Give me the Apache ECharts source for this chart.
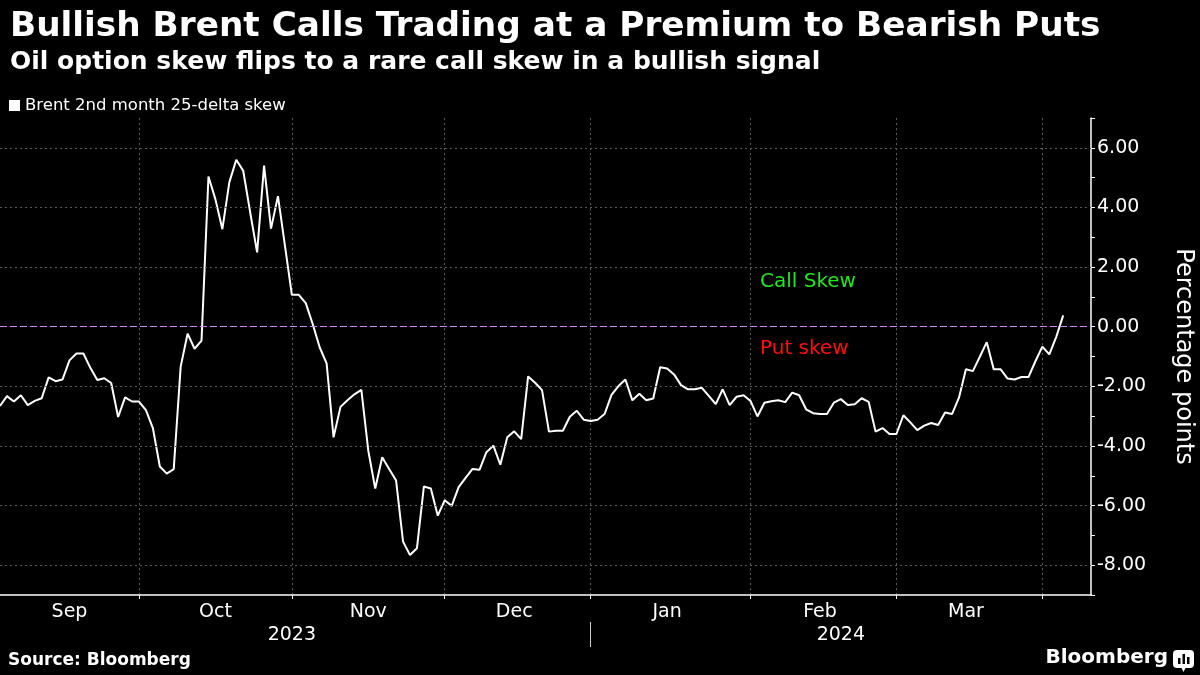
<!DOCTYPE html>
<html>
<head>
<meta charset="utf-8">
<title>Bullish Brent Calls Trading at a Premium to Bearish Puts</title>
<script src="https://cdn.jsdelivr.net/npm/echarts@6.0.0/dist/echarts.min.js"></script>
<style>
  html, body { margin: 0; padding: 0; background: #000; }
  #chart { width: 1200px; height: 675px; }
</style>
</head>
<body>
<div id="chart"></div>
<script>
// sessions start Sep 4 2023; the axis runs a few sessions past the last print
var firstDay = '2023-09-04';
var lastAxisDay = '2024-04-10';
var monthNames = ['Jan', 'Feb', 'Mar', 'Apr', 'May', 'Jun', 'Jul', 'Aug', 'Sep', 'Oct', 'Nov', 'Dec'];
var yLabels = [-8, -6, -4, -2, 0, 2, 4, 6];

// Brent 2nd month 25-delta skew, one value per trading day
var skew = [
  -2.66, -2.33, -2.51, -2.30, -2.63, -2.49, -2.40, -1.70, -1.83, -1.77,
  -1.13, -0.90, -0.90, -1.38, -1.79, -1.73, -1.89, -3.03, -2.37, -2.51,
  -2.51, -2.80, -3.40, -4.69, -4.93, -4.78, -1.34, -0.23, -0.74, -0.47,
   5.04,  4.27,  3.27,  4.84,  5.60,  5.23,  3.84,  2.49,  5.40,  3.29,
   4.38,  2.73,  1.07,  1.07,  0.79,  0.09, -0.69, -1.23, -3.71, -2.69,
  -2.47, -2.27, -2.12, -4.16, -5.43, -4.38, -4.77, -5.16, -7.21, -7.66,
  -7.43, -5.36, -5.43, -6.34, -5.82, -6.01, -5.38, -5.07, -4.77, -4.80,
  -4.21, -3.99, -4.63, -3.71, -3.51, -3.77, -1.67, -1.88, -2.13, -3.52,
  -3.49, -3.49, -3.02, -2.82, -3.12, -3.16, -3.12, -2.93, -2.29, -1.99,
  -1.77, -2.47, -2.25, -2.47, -2.41, -1.36, -1.40, -1.60, -1.96, -2.10,
  -2.10, -2.05, -2.32, -2.60, -2.10, -2.63, -2.35, -2.30, -2.49, -3.01,
  -2.55, -2.50, -2.47, -2.53, -2.21, -2.30, -2.77, -2.90, -2.93, -2.93,
  -2.55, -2.43, -2.63, -2.60, -2.40, -2.52, -3.52, -3.40, -3.60, -3.60,
  -2.97, -3.21, -3.47, -3.32, -3.23, -3.30, -2.88, -2.93, -2.38, -1.43,
  -1.49, -1.01, -0.52, -1.43, -1.43, -1.74, -1.77, -1.69, -1.69, -1.16,
  -0.67, -0.93, -0.34, 0.38
];

// weekday calendar for the category axis
var tradingDays = [];
var d = new Date(firstDay + 'T00:00:00Z');
var end = new Date(lastAxisDay + 'T00:00:00Z');
while (d <= end) {
  var wd = d.getUTCDay();
  if (wd !== 0 && wd !== 6) tradingDays.push(d.toISOString().slice(0, 10));
  d.setUTCDate(d.getUTCDate() + 1);
}

// first session of each month -> ticks and vertical grid
var monthStarts = [];
var yearStarts = [];
for (var i = 1; i < tradingDays.length; i++) {
  if (tradingDays[i].slice(5, 7) !== tradingDays[i - 1].slice(5, 7)) monthStarts.push(i);
  if (tradingDays[i].slice(0, 4) !== tradingDays[i - 1].slice(0, 4)) yearStarts.push(i);
}
// label positions: middle of each month's span (skip stubs)
var monthLabelAt = {};
var bounds = [0].concat(monthStarts).concat([tradingDays.length - 1]);
for (var j = 0; j < bounds.length - 1; j++) {
  if (bounds[j + 1] - bounds[j] >= 15) monthLabelAt[Math.floor((bounds[j] + bounds[j + 1]) / 2)] = true;
}
var yearLabelAt = {};
var yb = [0].concat(yearStarts).concat([tradingDays.length - 1]);
for (var k = 0; k < yb.length - 1; k++) {
  yearLabelAt[Math.floor((yb[k] + yb[k + 1]) / 2)] = true;
}

var gridLines = yLabels.filter(function (v) { return v !== 0; }).map(function (v) {
  return { yAxis: v, lineStyle: { color: '#5a5a5a', type: [2, 3], width: 1 } };
});
gridLines.push({ yAxis: 0, lineStyle: { color: '#c98ce8', type: [7, 3], width: 1 } });

var font = 'DejaVu Sans';
var myChart = echarts.init(document.getElementById('chart'));

var option = {
  backgroundColor: '#000',
  animation: false,
  title: {
    text: 'Bullish Brent Calls Trading at a Premium to Bearish Puts',
    subtext: 'Oil option skew flips to a rare call skew in a bullish signal',
    left: 5,
    top: 5,
    itemGap: 6,
    textStyle: { color: '#fff', fontFamily: font, fontWeight: 'bold', fontSize: 34.3 },
    subtextStyle: { color: '#fff', fontFamily: font, fontWeight: 'bold', fontSize: 25 }
  },
  legend: {
    left: 4,
    top: 92,
    icon: 'rect',
    itemWidth: 11,
    itemHeight: 11,
    textStyle: { color: '#fff', fontFamily: font, fontSize: 16.5 },
    data: ['Brent 2nd month 25-delta skew']
  },
  grid: { left: 0, right: 109, top: 118, bottom: 80, outerBoundsMode: 'none', containLabel: false },
  xAxis: [
    {
      type: 'category',
      data: tradingDays,
      boundaryGap: false,
      axisLine: { onZero: false, lineStyle: { color: '#fff', width: 1.5 } },
      axisTick: {
        length: 4,
        lineStyle: { color: '#fff' },
        interval: function (idx) { return monthStarts.indexOf(idx) >= 0; }
      },
      splitLine: {
        show: true,
        lineStyle: { color: '#5a5a5a', type: [2, 3] },
        interval: function (idx) { return monthStarts.indexOf(idx) >= 0; }
      },
      axisLabel: {
        color: '#fff',
        fontFamily: font,
        fontSize: 19,
        margin: 8,
        interval: function (idx) { return !!monthLabelAt[idx]; },
        formatter: function (v) { return monthNames[parseInt(v.slice(5, 7), 10) - 1]; }
      }
    },
    {
      type: 'category',
      data: tradingDays,
      boundaryGap: false,
      position: 'bottom',
      offset: 27,
      axisLine: { show: false, onZero: false },
      axisTick: {
        length: 25,
        lineStyle: { color: '#ccc' },
        interval: function (idx) { return yearStarts.indexOf(idx) >= 0; }
      },
      axisLabel: {
        color: '#fff',
        fontFamily: font,
        fontSize: 19,
        margin: 4,
        interval: function (idx) { return !!yearLabelAt[idx]; },
        formatter: function (v) { return v.slice(0, 4); }
      }
    }
  ],
  yAxis: {
    type: 'value',
    position: 'right',
    min: -9,
    max: 7,
    interval: 1,
    name: 'Percentage points',
    nameLocation: 'middle',
    nameRotate: -90,
    nameGap: 80,
    nameTextStyle: { color: '#fff', fontFamily: font, fontSize: 24 },
    axisLine: { show: true, onZero: false, lineStyle: { color: '#fff', width: 1.5 } },
    axisTick: { show: true, length: 4, lineStyle: { color: '#fff' } },
    splitLine: { show: false },
    axisLabel: {
      color: '#fff',
      fontFamily: font,
      fontSize: 19,
      margin: 6,
      formatter: function (v) { return yLabels.indexOf(v) >= 0 ? v.toFixed(2) : ''; }
    }
  },
  graphic: [
    { type: 'text', left: 760, top: 272, style: { text: 'Call Skew', fill: '#1ee81e', font: '20px "DejaVu Sans"' } },
    { type: 'text', left: 760, top: 339, style: { text: 'Put skew', fill: '#ff0d0d', font: '20px "DejaVu Sans"' } },
    { type: 'text', left: 8, top: 652, style: { text: 'Source: Bloomberg', fill: '#fff', font: 'bold 17px "DejaVu Sans"' } },
    { type: 'text', right: 32, top: 648, style: { text: 'Bloomberg', fill: '#fff', font: 'bold 20px "DejaVu Sans"' } },
    {
      type: 'group', right: 6, top: 650,
      children: [
        { type: 'rect', shape: { x: 0, y: 0, width: 21, height: 18, r: 4 }, style: { fill: '#fff' } },
        { type: 'polygon', shape: { points: [[8, 17], [13, 17], [10.5, 22]] }, style: { fill: '#fff' } },
        { type: 'rect', shape: { x: 5, y: 8, width: 2.5, height: 6 }, style: { fill: '#000' } },
        { type: 'rect', shape: { x: 9.5, y: 4, width: 2.5, height: 10 }, style: { fill: '#000' } },
        { type: 'rect', shape: { x: 14, y: 7, width: 2.5, height: 7 }, style: { fill: '#000' } }
      ]
    }
  ],
  series: [
    {
      name: 'Brent 2nd month 25-delta skew',
      type: 'line',
      data: skew,
      showSymbol: false,
      symbol: 'none',
      lineStyle: { color: '#fff', width: 2 },
      itemStyle: { color: '#fff' },
      markLine: {
        silent: true,
        symbol: 'none',
        label: { show: false },
        data: gridLines
      },
      z: 3
    }
  ]
};

myChart.setOption(option);
</script>
</body>
</html>
